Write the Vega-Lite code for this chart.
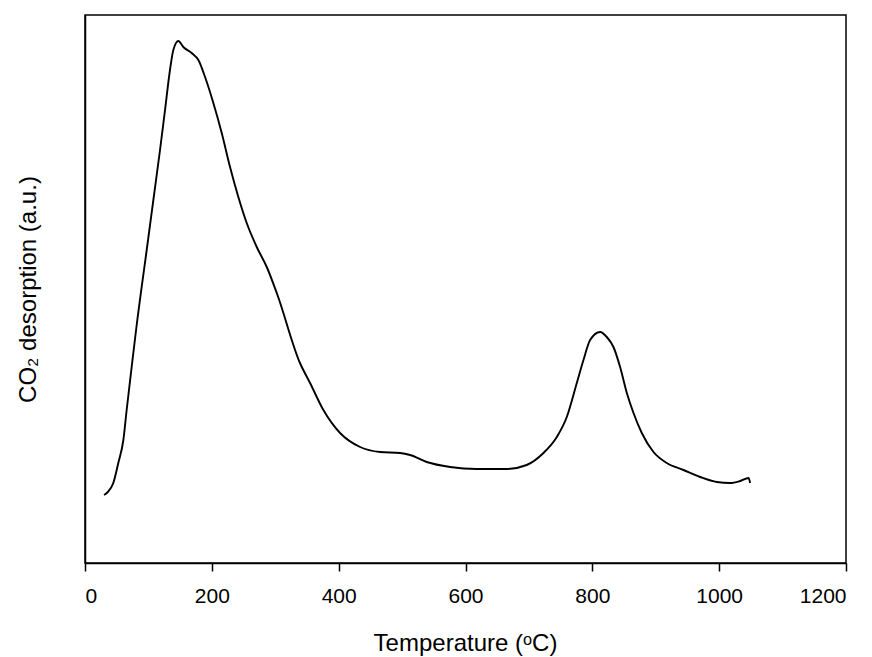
{
  "$schema": "https://vega.github.io/schema/vega-lite/v6.json",
  "autosize": {"type": "none"},
  "padding": {"left": 85, "top": 15, "right": 26, "bottom": 94},
  "width": 761,
  "height": 548,
  "background": "white",
  "config": {
    "view": {"stroke": "#000", "strokeWidth": 1.5},
    "font": "Liberation Sans"
  },
  "data": {"values": [
    {"t": 30, "v": 68}, {"t": 36, "v": 71}, {"t": 44.6, "v": 80}, {"t": 52.5, "v": 100}, {"t": 60.5, "v": 123},
    {"t": 65.7, "v": 153}, {"t": 73.6, "v": 196}, {"t": 81.5, "v": 238},
    {"t": 97.3, "v": 313}, {"t": 107.8, "v": 363}, {"t": 118.3, "v": 413}, {"t": 126.2, "v": 453},
    {"t": 134, "v": 493}, {"t": 139.3, "v": 513}, {"t": 147.2, "v": 522}, {"t": 155, "v": 516},
    {"t": 168.2, "v": 510}, {"t": 178.8, "v": 503}, {"t": 189.3, "v": 486}, {"t": 202.4, "v": 460},
    {"t": 215.6, "v": 430}, {"t": 228.7, "v": 396}, {"t": 241.8, "v": 366}, {"t": 255, "v": 340},
    {"t": 270.8, "v": 316}, {"t": 286.6, "v": 296}, {"t": 302.4, "v": 270}, {"t": 339, "v": 200},
    {"t": 354.9, "v": 180}, {"t": 375.9, "v": 153}, {"t": 402.2, "v": 130}, {"t": 433.8, "v": 116},
    {"t": 465.3, "v": 111}, {"t": 496.8, "v": 110}, {"t": 512.6, "v": 108}, {"t": 538.9, "v": 101},
    {"t": 575.7, "v": 96}, {"t": 617.8, "v": 94}, {"t": 665, "v": 94}, {"t": 696.5, "v": 98},
    {"t": 722.9, "v": 110}, {"t": 744, "v": 126}, {"t": 759.7, "v": 146}, {"t": 775.5, "v": 180},
    {"t": 786, "v": 203}, {"t": 796.5, "v": 223}, {"t": 812.3, "v": 231}, {"t": 822.8, "v": 226},
    {"t": 833.3, "v": 216}, {"t": 843.8, "v": 196}, {"t": 854.4, "v": 170}, {"t": 864.9, "v": 150},
    {"t": 878, "v": 130}, {"t": 896.4, "v": 111}, {"t": 917.4, "v": 100}, {"t": 943.7, "v": 93},
    {"t": 970, "v": 86}, {"t": 996.3, "v": 81}, {"t": 1017.4, "v": 80}, {"t": 1033, "v": 82},
    {"t": 1046.3, "v": 85}, {"t": 1048.9, "v": 80}
  ]},
  "mark": {"type": "line", "color": "#000", "strokeWidth": 1.9, "interpolate": "monotone"},
  "encoding": {
    "x": {
      "field": "t", "type": "quantitative",
      "scale": {"domain": [0, 1200], "nice": false, "zero": false},
      "axis": {
        "values": [0, 200, 400, 600, 800, 1000, 1200], "format": "d",
        "grid": false, "domainColor": "#000", "domainWidth": 1.5,
        "tickColor": "#000", "tickWidth": 1.5, "tickSize": 8,
        "labelFontSize": 21, "labelColor": "#000", "labelPadding": 31,
        "labelBaseline": "alphabetic",
        "labelFont": "Liberation Sans",
        "title": "Temperature (ᵒC)", "titleFontSize": 24, "titleFontWeight": "normal",
        "titleColor": "#000", "titleFont": "Liberation Sans",
        "titleX": 380, "titleY": 87, "titleBaseline": "alphabetic", "titleAlign": "center"
      }
    },
    "y": {
      "field": "v", "type": "quantitative",
      "scale": {"domain": [0, 548], "nice": false, "zero": false},
      "axis": {
        "ticks": false, "labels": false, "grid": false,
        "domainColor": "#000", "domainWidth": 1.5,
        "title": "CO₂ desorption (a.u.)", "titleFontSize": 24, "titleFontWeight": "normal",
        "titleColor": "#000", "titleFont": "Liberation Sans",
        "titleAngle": -90, "titleX": -50, "titleY": 274,
        "titleBaseline": "alphabetic", "titleAlign": "center"
      }
    }
  }
}
